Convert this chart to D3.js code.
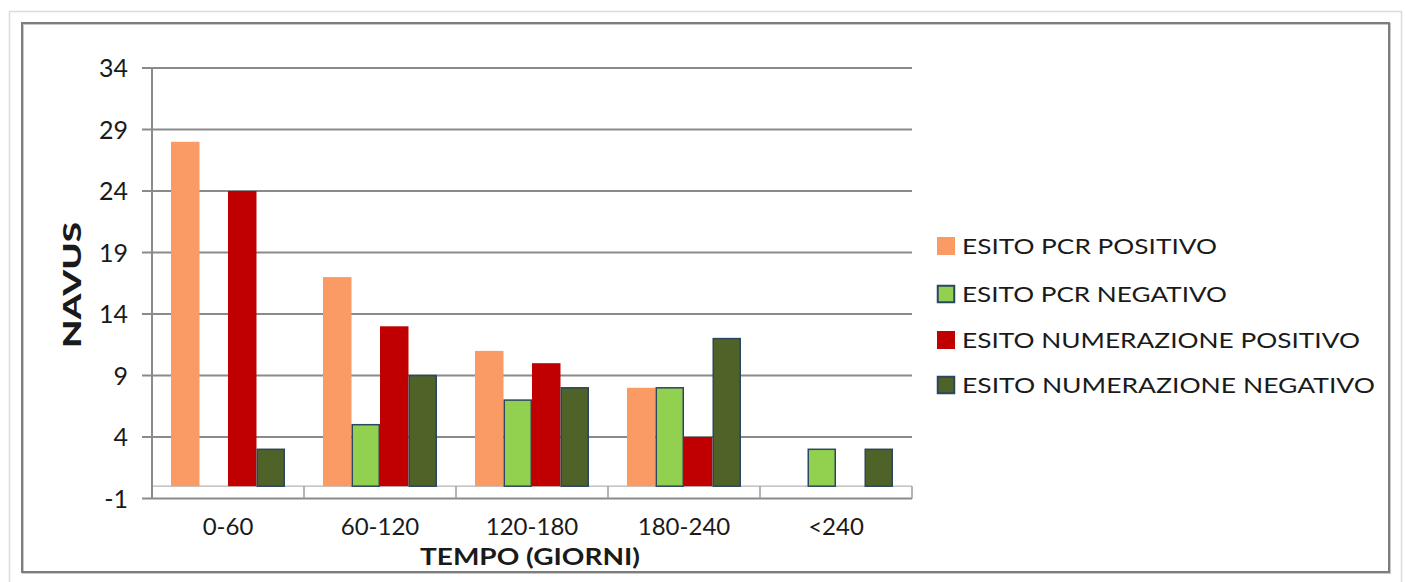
<!DOCTYPE html>
<html>
<head>
<meta charset="utf-8">
<script src="https://cdn.jsdelivr.net/npm/d3@7"></script>
<style>
  html, body { margin: 0; padding: 0; background: #fff; }
  svg { display: block; }
  text { font-family: Lato, "Open Sans", sans-serif; fill: #1a1a1a; }
</style>
</head>
<body>
<svg id="chart" width="1405" height="582"></svg>
<script>
// Categories (time windows in days) and one array per series
const categories = ["0-60", "60-120", "120-180", "180-240", "<240"];
const seriesNames = [
  "ESITO PCR POSITIVO",
  "ESITO PCR NEGATIVO",
  "ESITO NUMERAZIONE POSITIVO",
  "ESITO NUMERAZIONE NEGATIVO"
];
const pcrPositivo = [28, 17, 11, 8, 0];
const pcrNegativo = [0, 5, 7, 8, 3];
const numPositivo = [24, 13, 10, 4, 0];
const numNegativo = [3, 9, 8, 12, 3];
const yTicks = [-1, 4, 9, 14, 19, 24, 29, 34];

const seriesValues = [pcrPositivo, pcrNegativo, numPositivo, numNegativo];
const fills = ["#FA9A64", "#92D050", "#C00000", "#4F6228"];
const outlines = [null, "#2B4660", null, "#2B4660"];

const svg = d3.select("#chart");

// Frames
svg.append("rect").attr("x", 9.5).attr("y", 11.5).attr("width", 1392).attr("height", 580)
  .attr("fill", "none").attr("stroke", "#dcdcdc").attr("stroke-width", 1.5);
svg.append("rect").attr("x", 23).attr("y", 24).attr("width", 1367).attr("height", 549)
  .attr("fill", "none").attr("stroke", "#c8c8c8").attr("stroke-width", 2);
svg.append("rect").attr("x", 22).attr("y", 23).attr("width", 1367).attr("height", 549)
  .attr("fill", "none").attr("stroke", "#7d7d7d").attr("stroke-width", 2);

// Scales
const plotLeft = 152, plotRight = 912;
const x = d3.scaleBand().domain(categories).range([plotLeft, plotRight]).paddingInner(0).paddingOuter(0);
const xs = d3.scaleBand().domain(d3.range(seriesNames.length)).range([0, x.bandwidth()])
  .paddingInner(0).paddingOuter(0.667);
const y = d3.scaleLinear().domain([-1, 34]).range([498.5, 68]);

// Horizontal gridlines (the -1 line forms the front edge of the floor)
const grid = svg.append("g");
grid.selectAll("line").data(yTicks).join("line")
  .attr("x1", plotLeft - 10).attr("x2", plotRight)
  .attr("y1", d => y(d)).attr("y2", d => y(d))
  .attr("stroke", "#8a8a8a").attr("stroke-width", 2);

// Floor: back edge at 0, side edge and category separators
svg.append("line").attr("x1", plotLeft).attr("x2", plotRight)
  .attr("y1", y(0)).attr("y2", y(0)).attr("stroke", "#b5b5b5").attr("stroke-width", 1.2);
const bounds = categories.slice(1).map(c => x(c)).concat([plotRight]);
svg.append("g").selectAll("line").data(bounds).join("line")
  .attr("x1", d => d).attr("x2", d => d)
  .attr("y1", y(0)).attr("y2", y(-1))
  .attr("stroke", "#9a9a9a").attr("stroke-width", 1.5);

// Vertical axis line
svg.append("line").attr("x1", plotLeft).attr("x2", plotLeft)
  .attr("y1", y(34)).attr("y2", y(-1)).attr("stroke", "#8a8a8a").attr("stroke-width", 2);

// Y tick labels
svg.append("g").selectAll("text").data(yTicks).join("text")
  .attr("x", 128).attr("y", d => y(d) + 9)
  .attr("text-anchor", "end").attr("font-size", 25)
  .text(d => d);

// Bars
const groups = svg.append("g").selectAll("g").data(categories).join("g")
  .attr("transform", c => `translate(${x(c)},0)`);
groups.selectAll("rect")
  .data((c, i) => seriesValues.map((vals, s) => ({ s, v: vals[i] })).filter(d => d.v > 0))
  .join("rect")
  .attr("x", d => xs(d.s) + (outlines[d.s] ? 0.75 : 0))
  .attr("width", d => xs.bandwidth() - (outlines[d.s] ? 1.5 : 0))
  .attr("y", d => y(d.v))
  .attr("height", d => y(0) - y(d.v))
  .attr("fill", d => fills[d.s])
  .attr("stroke", d => outlines[d.s] || "none")
  .attr("stroke-width", 1.5);

// Category labels
svg.append("g").selectAll("text").data(categories).join("text")
  .attr("x", c => x(c) + x.bandwidth() / 2).attr("y", 535)
  .attr("text-anchor", "middle").attr("font-size", 24)
  .text(c => c);

// Axis titles
svg.append("text").attr("x", 530).attr("y", 565)
  .attr("text-anchor", "middle").attr("font-size", 23).attr("font-weight", 700)
  .attr("textLength", 220).attr("lengthAdjust", "spacingAndGlyphs")
  .text("TEMPO (GIORNI)");
svg.append("text").attr("transform", "translate(81,285) rotate(-90)")
  .attr("text-anchor", "middle").attr("font-size", 25).attr("font-weight", 900)
  .attr("textLength", 126).attr("lengthAdjust", "spacingAndGlyphs")
  .text("NAVUS");

// Legend
const legendY = [246, 294, 340, 385];
const legendW = [255, 265, 398, 413];
const legend = svg.append("g").selectAll("g").data(seriesNames).join("g")
  .attr("transform", (d, i) => `translate(937,${legendY[i]})`);
legend.append("rect")
  .attr("x", (d, i) => outlines[i] ? 0.75 : 0).attr("y", (d, i) => -9 + (outlines[i] ? 0.75 : 0))
  .attr("width", (d, i) => 18 - (outlines[i] ? 1.5 : 0))
  .attr("height", (d, i) => 18 - (outlines[i] ? 1.5 : 0))
  .attr("fill", (d, i) => fills[i])
  .attr("stroke", (d, i) => outlines[i] || "none").attr("stroke-width", 2);
legend.append("text").attr("x", 25).attr("y", 8)
  .attr("font-size", 22)
  .attr("textLength", (d, i) => legendW[i]).attr("lengthAdjust", "spacingAndGlyphs")
  .text(d => d);
</script>
</body>
</html>
